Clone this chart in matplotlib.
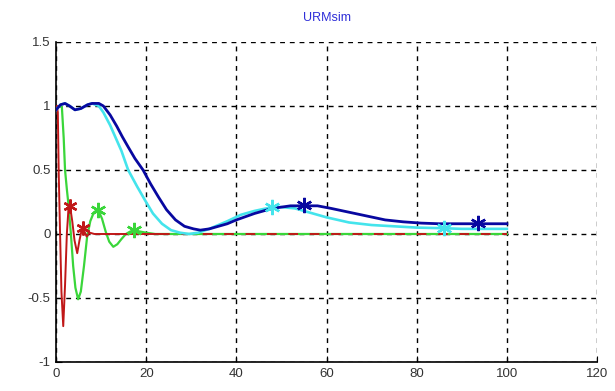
import matplotlib
matplotlib.use("Agg")
import matplotlib.pyplot as plt

# ---- data ----
blue_x = [0, 1, 2, 3, 4.2, 5.5, 7, 8, 9.5, 10.5, 12, 13.5, 14.7, 16, 17.5, 19.3, 21, 22.7,
          24.5, 26.5, 28.5, 30.5, 32, 34, 36, 38, 40, 44, 48, 52, 55, 58, 61, 65, 69, 73,
          77, 81, 85, 90, 95, 100]
blue_y = [0.97, 1.01, 1.02, 1.0, 0.97, 0.98, 1.01, 1.02, 1.02, 1.0, 0.93, 0.84, 0.76, 0.68,
          0.59, 0.5, 0.39, 0.29, 0.19, 0.11, 0.06, 0.04, 0.03, 0.04, 0.06, 0.08, 0.11, 0.16,
          0.2, 0.22, 0.22, 0.22, 0.2, 0.17, 0.14, 0.11, 0.095, 0.085, 0.08, 0.08, 0.08, 0.08]
blue_mx = [55, 93.5]
blue_my = [0.23, 0.085]

cyan_x = [0, 1, 2, 3, 4.2, 5.5, 7, 8, 9.5, 10.5, 12, 13, 14.5, 16, 18, 19.8, 21.5, 23.5,
          25.5, 27.5, 29.5, 31.5, 34, 36, 38, 41, 44, 48, 50, 53, 56, 60, 65, 70, 75, 80,
          86, 90, 95, 100]
cyan_y = [0.97, 1.01, 1.02, 1.0, 0.97, 0.98, 1.01, 1.02, 1.0, 0.95, 0.85, 0.77, 0.65, 0.5,
          0.37, 0.26, 0.16, 0.08, 0.03, 0.01, 0.0, 0.01, 0.04, 0.07, 0.1, 0.15, 0.18, 0.21,
          0.21, 0.2, 0.17, 0.13, 0.09, 0.07, 0.06, 0.05, 0.045, 0.04, 0.04, 0.04]
cyan_mx = [48, 86]
cyan_my = [0.21, 0.05]

green_x = [0.2, 0.8, 1.3, 1.7, 2.0, 2.4, 2.7, 3.3, 3.8, 4.3, 4.9, 5.5, 6.2, 6.9, 7.6, 8.4,
           9.3, 10.2, 11, 11.8, 12.7, 13.6, 14.5, 15.5, 16.5, 17.5, 18.5, 20, 22, 25, 100]
green_y = [0.98, 1.0, 0.99, 0.75, 0.5, 0.35, 0.25, 0.0, -0.25, -0.42, -0.51, -0.45, -0.25,
           -0.02, 0.1, 0.17, 0.19, 0.12, 0.02, -0.06, -0.1, -0.08, -0.04, 0.0, 0.02, 0.03,
           0.02, 0.01, 0.0, 0.0, 0.0]
green_mx = [9.3, 17.3]
green_my = [0.19, 0.03]

red_x = [0.2, 0.4, 0.6, 0.9, 1.2, 1.6, 2.0, 2.4, 2.8, 3.1, 3.6, 4.1, 4.7, 5.2, 5.8, 6.3,
         6.8, 7.5, 8.5, 10, 15, 23]
red_y = [1.0, 0.95, 0.47, 0.0, -0.45, -0.72, -0.4, 0.0, 0.22, 0.22, 0.1, -0.05, -0.15,
         -0.05, 0.05, 0.02, -0.02, 0.01, 0.0, 0.0, 0.0, 0.0]
red_tail_x = [23, 100]
red_tail_y = [0.0, 0.0]
red_mx = [3.1, 6.0]
red_my = [0.22, 0.05]

x_ticks = [0, 20, 40, 60, 80, 100, 120]
y_ticks = [-1, -0.5, 0, 0.5, 1, 1.5]
y_labels = ["-1", "-0.5", "0", "0.5", "1", "1.5"]

# ---- plot ----
plt.rcParams['font.family'] = ['Liberation Sans', 'DejaVu Sans']
fig = plt.figure(figsize=(6.15, 3.91), dpi=100)
ax = fig.add_axes([0.0911, 0.0742, 0.8797, 0.8184])

navy = '#0808a0'
cyan = '#44e4ec'
green = '#3ad63a'
red = '#c01818'

ax.plot(green_x, green_y, color=green, lw=1.6, zorder=3)
ax.plot(red_x, red_y, color=red, lw=1.4, zorder=4)
ax.plot(red_tail_x, red_tail_y, color=red, lw=1.4, dashes=(5, 6), zorder=4)
ax.plot(cyan_x, cyan_y, color=cyan, lw=1.9, zorder=5)
ax.plot(blue_x, blue_y, color=navy, lw=2.0, zorder=6)

ast = (6, 2, 0)
ax.plot(green_mx, green_my, ls='none', marker=ast, ms=11, mew=1.7, color=green, zorder=7)
ax.plot(red_mx, red_my, ls='none', marker=ast, ms=10, mew=1.7, color=red, zorder=7)
ax.plot(cyan_mx, cyan_my, ls='none', marker=ast, ms=11, mew=1.7, color=cyan, zorder=7)
ax.plot(blue_mx, blue_my, ls='none', marker=ast, ms=11, mew=1.7, color=navy, zorder=7)

ax.set_xlim(0, 120)
ax.set_ylim(-1, 1.5)
ax.set_xticks(x_ticks)
ax.set_yticks(y_ticks)
ax.set_yticklabels(y_labels)
ax.grid(True, color='black', linestyle=(0, (3.5, 3.5)), linewidth=1.0)
ax.set_axisbelow(True)
for s in ['top', 'right']:
    ax.spines[s].set_visible(False)
for s in ['left', 'bottom']:
    ax.spines[s].set_linewidth(1.2)
ax.tick_params(direction='in', length=4, labelsize=9.5, colors='black',
               labelcolor='#333333', pad=4)
ax.set_title('URMsim', color='#2f2fd8', fontsize=9, pad=15)

fig.savefig('out.png', dpi=100)
